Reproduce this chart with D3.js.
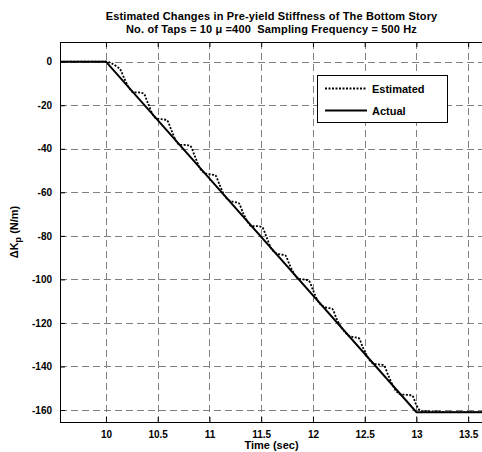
<!DOCTYPE html>
<html>
<head>
<meta charset="utf-8">
<script src="https://cdn.jsdelivr.net/npm/d3@7"></script>
<style>
  html, body { margin: 0; padding: 0; background: #fff; }
  svg { display: block; }
  text { font-family: "Liberation Sans", Arial, Helvetica, sans-serif; font-weight: bold; fill: #000; white-space: pre; }
</style>
</head>
<body>
<svg id="chart" width="482" height="452"></svg>
<script>
// Axis ticks
const xTicks = [10, 10.5, 11, 11.5, 12, 12.5, 13, 13.5];
const yTicks = [0, -20, -40, -60, -80, -100, -120, -140, -160];

// Actual change in pre-yield stiffness (N/m)
const actualTime  = [9.55, 10.0, 13.0, 13.65];
const actualValue = [0, 0, -161, -161];

// Estimated change (LMS estimate, stepwise tracking)
const estTime = [
  9.55, 10.0, 10.06, 10.105, 10.135, 10.18, 10.225,
  10.261, 10.311, 10.361, 10.406, 10.451,
  10.487, 10.537, 10.587, 10.632, 10.677,
  10.712, 10.762, 10.812, 10.857, 10.902,
  10.954, 11.004, 11.054, 11.099, 11.144,
  11.179, 11.229, 11.279, 11.324, 11.369,
  11.406, 11.456, 11.506, 11.551, 11.596,
  11.631, 11.681, 11.731, 11.776, 11.821,
  11.856, 11.906, 11.956, 12.001, 12.046,
  12.083, 12.133, 12.183, 12.228, 12.273,
  12.34, 12.39, 12.44, 12.485, 12.53,
  12.582, 12.632, 12.682, 12.727, 12.772,
  12.85, 12.905, 12.957, 13.0, 13.04, 13.1, 13.2, 13.28, 13.65
];
const estValue = [
  0, 0, -0.9, -2.3, -3.4, -8.0, -12.1,
  -14.0, -14.1, -14.5, -19.1, -24.2,
  -26.1, -26.4, -26.8, -31.4, -36.3,
  -38.2, -38.2, -38.6, -43.2, -48.4,
  -51.2, -51.7, -52.1, -56.7, -61.4,
  -63.3, -64.4, -64.8, -69.4, -73.5,
  -75.5, -75.5, -75.9, -80.5, -85.7,
  -87.5, -88.5, -88.9, -93.5, -97.7,
  -99.6, -100.0, -100.4, -105.0, -109.8,
  -111.8, -113.0, -113.4, -118.0, -122.0,
  -125.6, -126.5, -126.9, -131.5, -135.8,
  -138.6, -139.0, -139.4, -144.0, -148.8,
  -152.9, -153.0, -153.3, -157.8, -160.3, -160.6, -160.7, -161.0, -161.0
];

const titleLines = [
  "Estimated Changes in Pre-yield Stiffness of The Bottom Story",
  "No. of Taps = 10 \u03bc =400  Sampling Frequency = 500 Hz"
];
const xLabel = "Time (sec)";
const legendLabels = ["Estimated", "Actual"];

const svg = d3.select("#chart");
const plotL = 60, plotR = 483, plotT = 42, plotB = 422;

const x = d3.scaleLinear().domain([9.556, 13.643]).range([plotL, plotR]);
const y = d3.scaleLinear().domain([9.05, -165.5]).range([plotT, plotB]);

svg.append("defs").append("clipPath").attr("id", "plotClip")
  .append("rect").attr("x", plotL).attr("y", plotT)
  .attr("width", plotR - plotL).attr("height", plotB - plotT);

// Grid
const grid = svg.append("g").attr("stroke", "#808080").attr("stroke-width", 1)
  .attr("stroke-dasharray", "7,4").attr("fill", "none");
grid.selectAll("line.v").data(xTicks).join("line").attr("class", "v")
  .attr("x1", d => Math.round(x(d)) + 0.5).attr("x2", d => Math.round(x(d)) + 0.5)
  .attr("y1", plotT).attr("y2", plotB);
grid.selectAll("line.h").data(yTicks).join("line").attr("class", "h")
  .attr("y1", d => Math.round(y(d)) + 0.5).attr("y2", d => Math.round(y(d)) + 0.5)
  .attr("x1", plotL).attr("x2", plotR);

// Lines
const plot = svg.append("g").attr("clip-path", "url(#plotClip)");
const actualPts = actualTime.map((t, i) => [t, actualValue[i]]);
const estPts = estTime.map((t, i) => [t, estValue[i]]);

plot.append("path").datum(actualPts)
  .attr("fill", "none").attr("stroke", "#000").attr("stroke-width", 2)
  .attr("d", d3.line().x(d => x(d[0])).y(d => y(d[1])));

plot.append("path").datum(estPts)
  .attr("fill", "none").attr("stroke", "#000").attr("stroke-width", 1.8)
  .attr("stroke-dasharray", "2,1.5")
  .attr("d", d3.line().curve(d3.curveMonotoneX).x(d => x(d[0])).y(d => y(d[1])));

// Axes (ticks point inward)
const fmt = d => String(d);
svg.append("g").attr("transform", `translate(0,${plotB})`)
  .call(d3.axisBottom(x).tickValues(xTicks).tickFormat(fmt).tickSizeInner(-5).tickSizeOuter(0).tickPadding(9))
  .call(g => g.select(".domain").remove())
  .call(g => g.selectAll("text").attr("font-size", 10).attr("font-family", null));
svg.append("g").attr("transform", `translate(0,${plotT})`)
  .call(d3.axisTop(x).tickValues(xTicks).tickFormat("").tickSizeInner(-5).tickSizeOuter(0))
  .call(g => g.select(".domain").remove());
svg.append("g").attr("transform", `translate(${plotL},0)`)
  .call(d3.axisLeft(y).tickValues(yTicks).tickFormat(fmt).tickSizeInner(-5).tickSizeOuter(0).tickPadding(8))
  .call(g => g.select(".domain").remove())
  .call(g => g.selectAll("text").attr("font-size", 10).attr("font-family", null));

// Box
svg.append("rect").attr("x", plotL + 0.5).attr("y", plotT + 0.5)
  .attr("width", plotR - plotL).attr("height", plotB - plotT)
  .attr("fill", "none").attr("stroke", "#000").attr("stroke-width", 1);

// Title
const cx = (plotL + plotR) / 2;
svg.append("text").attr("x", cx).attr("y", 19.5).attr("text-anchor", "middle")
  .attr("font-size", 11).attr("letter-spacing", 0.15).text(titleLines[0]);
svg.append("text").attr("x", cx).attr("y", 33).attr("text-anchor", "middle")
  .attr("font-size", 11).attr("letter-spacing", 0.15).text(titleLines[1]);

// Axis labels
svg.append("text").attr("x", cx).attr("y", 449).attr("text-anchor", "middle")
  .attr("font-size", 11).text(xLabel);
const yl = svg.append("text").attr("transform", `translate(18,${(plotT + plotB) / 2}) rotate(-90)`)
  .attr("text-anchor", "middle").attr("font-size", 11);
yl.append("tspan").text("\u0394K");
yl.append("tspan").attr("font-size", 9).attr("dy", 3).text("p");
yl.append("tspan").attr("dy", -3).text(" (N/m)");

// Legend
const lg = svg.append("g");
lg.append("rect").attr("x", 317.5).attr("y", 75.5).attr("width", 130).attr("height", 47)
  .attr("fill", "#fff").attr("stroke", "#000").attr("stroke-width", 1);
const legendY = [88.5, 110.5];
lg.append("line").attr("x1", 325).attr("x2", 367).attr("y1", legendY[0]).attr("y2", legendY[0])
  .attr("stroke", "#000").attr("stroke-width", 1.8).attr("stroke-dasharray", "2,1.5");
lg.append("line").attr("x1", 325).attr("x2", 367).attr("y1", legendY[1]).attr("y2", legendY[1])
  .attr("stroke", "#000").attr("stroke-width", 2);
lg.selectAll("text").data(legendLabels).join("text")
  .attr("x", 372).attr("y", (d, i) => legendY[i] + 4).attr("font-size", 11).text(d => d);
</script>
</body>
</html>
